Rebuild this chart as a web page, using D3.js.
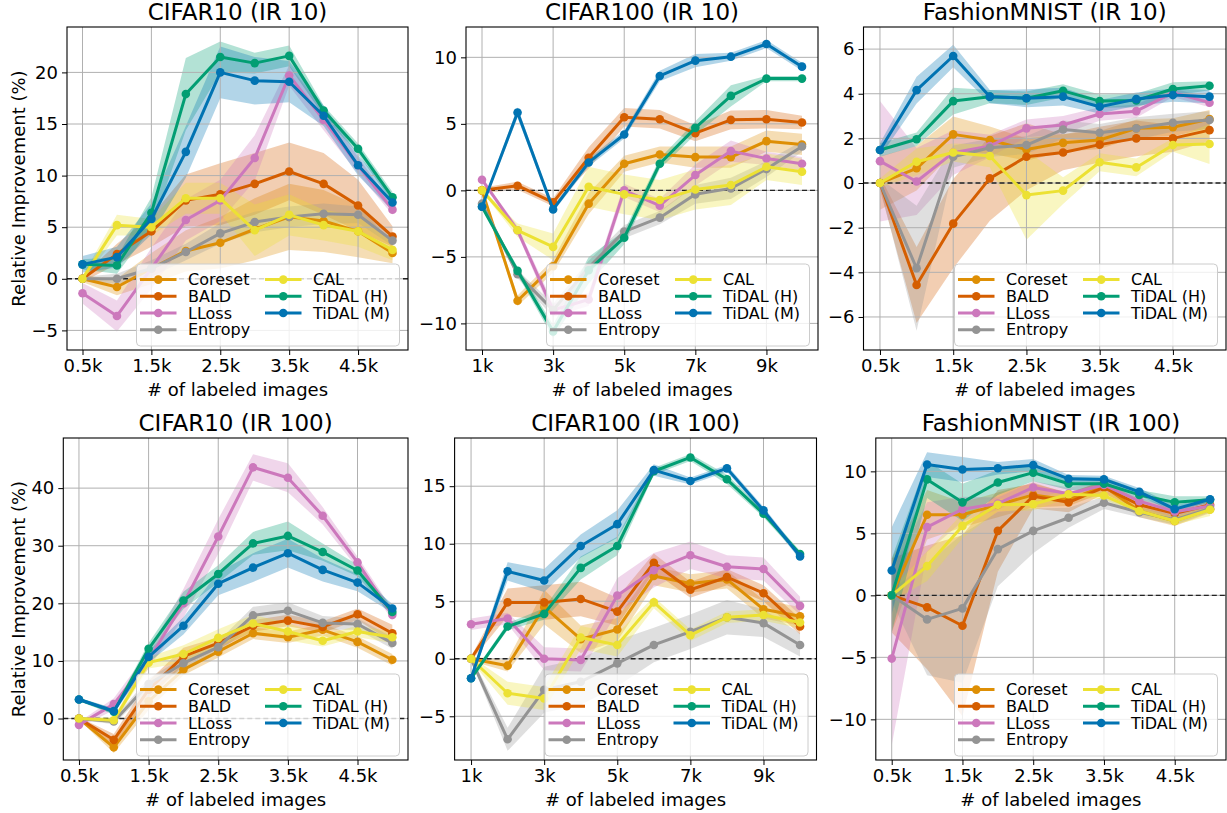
<!DOCTYPE html>
<html>
<head>
<meta charset="utf-8">
<script src="https://cdn.jsdelivr.net/npm/d3@7"></script>
<style>
  body { margin: 0; background: #fff; }
  svg { font-family: "DejaVu Sans", sans-serif; }
</style>
</head>
<body>
<div id="chart"></div>
<script>
// Methods, in legend / drawing order
var methods = ["Coreset", "BALD", "LLoss", "Entropy", "CAL", "TiDAL (H)", "TiDAL (M)"];
var colors = ["#de8f05", "#d55e00", "#cc78bc", "#949494", "#ece133", "#029e73", "#0173b2"];

// labeled-image budgets (k)
var budgetSmall = [0.5, 1, 1.5, 2, 2.5, 3, 3.5, 4, 4.5, 5];
var budgetLarge = [1, 2, 3, 4, 5, 6, 7, 8, 9, 10];
var tickSmall = [0.5, 1.5, 2.5, 3.5, 4.5];
var tickLarge = [1, 3, 5, 7, 9];

// CIFAR10 (IR 10): mean and std per method
var c10ir10Mean = [
  [0, -0.8, 1.0, 2.7, 3.5, 4.8, 6.0, 5.6, 4.6, 2.5],
  [0, 2.4, 4.6, 7.6, 8.2, 9.2, 10.4, 9.2, 7.1, 4.1],
  [-1.4, -3.6, 1.0, 5.7, 7.6, 11.7, 19.7, 15.4, 11.0, 6.7],
  [0, 0, 1.0, 2.6, 4.4, 5.5, 6.0, 6.3, 6.2, 3.7],
  [0, 5.2, 5.0, 7.8, 7.8, 4.7, 6.2, 5.2, 4.6, 2.8],
  [1.4, 1.3, 6.4, 17.9, 21.5, 20.9, 21.6, 16.3, 12.6, 7.9],
  [1.4, 2.1, 5.8, 12.3, 20.0, 19.2, 19.1, 15.8, 11.0, 7.4]
];
var c10ir10Std = [
  [0.3, 0.8, 1.5, 2.0, 2.5, 3.0, 3.2, 3.0, 2.5, 1.0],
  [0.3, 1.0, 1.5, 2.5, 3.0, 3.0, 2.8, 3.0, 2.5, 1.0],
  [1.0, 1.5, 2.0, 2.0, 2.0, 2.2, 1.0, 1.0, 0.8, 0.5],
  [0.2, 0.5, 0.8, 0.8, 1.0, 1.0, 1.0, 1.0, 0.8, 0.5],
  [0.3, 1.0, 0.8, 1.5, 1.5, 2.5, 2.0, 1.5, 1.5, 1.0],
  [0.5, 0.8, 1.5, 3.5, 1.5, 1.0, 1.0, 0.5, 0.5, 0.5],
  [0.8, 1.0, 1.5, 2.5, 2.5, 2.3, 2.0, 1.0, 1.0, 0.8]
];

// CIFAR100 (IR 10)
var c100ir10Mean = [
  [0, -8.3, -5.7, -1.0, 2.0, 2.7, 2.5, 2.5, 3.7, 3.45],
  [0, 0.35, -0.9, 2.45, 5.5, 5.35, 4.3, 5.3, 5.35, 5.1],
  [0.8, -3.0, -9.0, -8.2, 0, -1.15, 1.15, 2.95, 2.4, 2.0],
  [-1.0, -6.3, -9.0, -5.8, -3.1, -2.05, -0.3, 0.15, 1.6, 3.3],
  [0, -3.0, -4.25, 0.27, -0.3, -0.73, 0.07, 0.4, 1.77, 1.4],
  [-1.23, -6.05, -10.6, -6.0, -3.56, 2.0, 4.7, 7.1, 8.4, 8.4],
  [-1.23, 5.85, -1.43, 2.1, 4.2, 8.6, 9.75, 10.05, 11.0, 9.3]
];
var c100ir10Std = [
  [0.1, 0.4, 0.5, 0.8, 0.6, 0.6, 0.8, 0.8, 0.8, 0.8],
  [0.2, 0.3, 0.3, 0.8, 0.7, 0.7, 0.6, 0.7, 0.7, 0.5],
  [0.1, 0.3, 0.5, 0.5, 0.5, 0.5, 0.8, 0.8, 0.5, 0.5],
  [0.1, 0.3, 0.5, 0.5, 0.5, 0.5, 0.7, 0.8, 0.6, 0.4],
  [0.1, 0.5, 1.0, 1.5, 1.5, 1.5, 1.5, 1.5, 1.0, 1.0],
  [0.1, 0.3, 0.5, 1.0, 0.5, 0.4, 0.5, 0.8, 0.2, 0.2],
  [0.1, 0.4, 0.2, 0.3, 0.3, 0.4, 0.5, 0.3, 0.3, 0.3]
];

// FashionMNIST (IR 10)
var fmir10Mean = [
  [0, 0.66, 2.18, 1.93, 1.5, 1.8, 1.93, 2.45, 2.5, 2.87],
  [0, -4.57, -1.82, 0.21, 1.18, 1.37, 1.72, 2.0, 2.0, 2.37],
  [0.98, 0.07, 1.36, 1.66, 2.45, 2.6, 3.09, 3.22, 4.05, 3.6],
  [0, -3.82, 1.18, 1.58, 1.7, 2.4, 2.25, 2.45, 2.7, 2.82],
  [0, 0.95, 1.37, 1.21, -0.54, -0.34, 0.93, 0.7, 1.7, 1.75],
  [1.48, 1.96, 3.67, 3.87, 3.8, 4.13, 3.67, 3.7, 4.21, 4.36],
  [1.48, 4.16, 5.69, 3.87, 3.8, 3.87, 3.42, 3.76, 3.94, 3.87]
];
var fmir10Std = [
  [1.2, 1.0, 0.8, 0.6, 0.5, 0.4, 0.4, 0.4, 0.4, 0.4],
  [0.3, 1.7, 2.0, 1.9, 1.5, 0.8, 0.8, 0.8, 0.6, 0.5],
  [2.7, 1.5, 1.0, 0.5, 0.4, 0.4, 0.3, 0.3, 0.2, 0.2],
  [0.2, 2.8, 0.5, 0.4, 0.4, 0.4, 0.4, 0.5, 0.4, 0.4],
  [0.2, 0.6, 0.4, 0.5, 2.0, 0.6, 0.4, 0.4, 0.3, 0.9],
  [0.3, 0.3, 0.6, 0.3, 0.3, 0.3, 0.3, 0.3, 0.3, 0.2],
  [0.3, 0.6, 0.5, 0.3, 0.4, 0.4, 0.3, 0.3, 0.3, 0.3]
];

// CIFAR10 (IR 100)
var c10ir100Mean = [
  [0, -5.0, 3.0, 8.5, 11.6, 14.8, 14.1, 15.4, 13.3, 10.2],
  [0, -3.7, 5.0, 10.8, 13.1, 16.1, 17.0, 15.9, 18.1, 14.8],
  [-1.1, 2.5, 10.2, 20.0, 31.6, 43.6, 41.8, 35.2, 27.1, 18.0],
  [0, -0.5, 6.0, 9.6, 12.4, 17.9, 18.7, 16.6, 16.4, 13.1],
  [0, -0.3, 9.7, 11.2, 14.0, 16.5, 15.1, 13.5, 15.1, 14.1],
  [3.3, 1.2, 12.1, 20.5, 25.1, 30.4, 31.7, 28.9, 25.7, 18.5],
  [3.3, 1.3, 10.7, 16.1, 23.4, 26.2, 28.7, 25.8, 23.6, 19.1]
];
var c10ir100Std = [
  [0.2, 1.0, 1.5, 1.0, 1.0, 1.0, 1.0, 1.0, 1.0, 1.0],
  [0.2, 1.0, 1.5, 1.5, 1.0, 1.0, 1.0, 1.0, 1.0, 1.5],
  [0.5, 1.0, 1.5, 2.5, 3.0, 2.3, 2.5, 1.5, 1.0, 1.0],
  [0.2, 0.5, 1.0, 1.0, 1.0, 1.5, 1.5, 1.2, 1.0, 1.0],
  [0.2, 0.5, 1.0, 1.5, 1.5, 1.5, 1.5, 1.0, 1.0, 1.0],
  [0.3, 0.5, 1.0, 1.5, 1.5, 2.0, 2.5, 1.5, 1.0, 0.8],
  [0.3, 0.5, 1.0, 1.5, 2.0, 2.5, 2.5, 2.0, 1.5, 0.8]
];

// CIFAR100 (IR 100)
var c100ir100Mean = [
  [0, -0.6, 4.5, 1.7, 2.55, 7.2, 6.55, 6.9, 4.3, 3.7],
  [0, 4.9, 4.9, 5.2, 4.1, 8.35, 6.0, 7.1, 5.7, 2.8],
  [3.0, 3.5, 0.0, -0.1, 5.5, 7.7, 9.0, 8.0, 7.8, 4.6],
  [0, -7.0, -2.7, -2.0, -0.4, 1.2, 2.35, 3.6, 3.1, 1.2],
  [0, -3.0, -3.45, 1.85, 1.2, 4.9, 2.05, 3.6, 3.8, 3.15],
  [-1.7, 2.8, 3.9, 7.9, 9.8, 16.3, 17.5, 15.6, 12.6, 9.1],
  [-1.7, 7.6, 6.8, 9.8, 11.7, 16.4, 15.45, 16.55, 12.9, 8.9]
];
var c100ir100Std = [
  [0.2, 0.5, 1.5, 1.2, 1.0, 0.8, 0.8, 0.8, 0.8, 0.8],
  [0.2, 1.2, 1.5, 1.5, 1.2, 0.8, 0.7, 0.7, 0.7, 0.7],
  [0.5, 0.5, 1.0, 1.0, 1.5, 1.5, 1.2, 1.0, 1.0, 0.8],
  [0.2, 1.0, 2.0, 2.0, 2.0, 1.5, 1.5, 1.5, 1.2, 1.0],
  [0.2, 1.0, 1.0, 1.0, 1.0, 0.5, 0.5, 0.5, 0.5, 0.5],
  [0.2, 0.3, 0.5, 1.0, 0.8, 0.3, 0.3, 0.4, 0.3, 0.3],
  [0.2, 0.8, 1.0, 1.0, 1.2, 0.5, 0.3, 0.3, 0.3, 0.3]
];

// FashionMNIST (IR 100)
var fmir100Mean = [
  [0, 6.5, 6.5, 7.3, 8.1, 7.7, 8.8, 6.8, 6.0, 6.95],
  [0, -0.97, -2.45, 5.2, 8.0, 7.5, 8.7, 7.3, 6.6, 7.3],
  [-5.1, 5.5, 6.95, 7.4, 8.7, 8.2, 8.9, 7.6, 6.75, 7.2],
  [0, -1.94, -1.05, 3.73, 5.2, 6.26, 7.47, 6.7, 6.1, 7.0],
  [0, 2.36, 5.6, 7.3, 7.35, 8.15, 8.05, 6.8, 6.0, 6.9],
  [0, 9.35, 7.5, 9.1, 9.9, 9.0, 9.0, 8.1, 7.5, 7.7],
  [2.0, 10.55, 10.15, 10.25, 10.5, 9.4, 9.35, 8.35, 6.95, 7.75]
];
var fmir100Std = [
  [3.0, 2.0, 1.0, 1.0, 1.0, 0.5, 0.5, 0.5, 0.4, 0.3],
  [3.0, 5.0, 7.3, 3.3, 1.0, 0.8, 0.5, 0.4, 0.4, 0.4],
  [7.0, 2.0, 1.0, 0.5, 0.5, 0.5, 0.3, 0.3, 0.3, 0.3],
  [0.5, 4.5, 6.0, 3.0, 1.8, 0.8, 0.5, 0.4, 0.4, 0.3],
  [0.5, 1.2, 1.0, 0.5, 0.5, 0.3, 0.3, 0.3, 0.3, 0.5],
  [3.0, 1.5, 1.5, 1.0, 0.7, 0.5, 0.5, 0.4, 0.5, 0.3],
  [3.5, 1.0, 1.0, 0.5, 0.5, 0.3, 0.3, 0.3, 0.3, 0.2]
];

// Panel layout (pixel boxes and axis ranges)
var panels = [
  { title: "CIFAR10 (IR 10)", mean: c10ir10Mean, std: c10ir10Std, xs: budgetSmall, xticks: tickSmall,
    xdom: [0.275, 5.225], ydom: [-6.9, 24.4], yticks: [-5, 0, 5, 10, 15, 20],
    left: 67, right: 408, top: 27, bottom: 350, ylabel: true },
  { title: "CIFAR100 (IR 10)", mean: c100ir10Mean, std: c100ir10Std, xs: budgetLarge, xticks: tickLarge,
    xdom: [0.55, 10.45], ydom: [-12.0, 12.28], yticks: [-10, -5, 0, 5, 10],
    left: 466, right: 818, top: 27, bottom: 350 },
  { title: "FashionMNIST (IR 10)", mean: fmir10Mean, std: fmir10Std, xs: budgetSmall, xticks: tickSmall,
    xdom: [0.275, 5.225], ydom: [-7.48, 6.99], yticks: [-6, -4, -2, 0, 2, 4, 6],
    left: 863.5, right: 1226, top: 27, bottom: 350 },
  { title: "CIFAR10 (IR 100)", mean: c10ir100Mean, std: c10ir100Std, xs: budgetSmall, xticks: tickSmall,
    xdom: [0.275, 5.225], ydom: [-7.2, 48.7], yticks: [0, 10, 20, 30, 40],
    left: 63.3, right: 408, top: 438, bottom: 760, ylabel: true },
  { title: "CIFAR100 (IR 100)", mean: c100ir100Mean, std: c100ir100Std, xs: budgetLarge, xticks: tickLarge,
    xdom: [0.55, 10.45], ydom: [-8.8, 19.19], yticks: [-5, 0, 5, 10, 15],
    left: 454.6, right: 816.5, top: 438, bottom: 760 },
  { title: "FashionMNIST (IR 100)", mean: fmir100Mean, std: fmir100Std, xs: budgetSmall, xticks: tickSmall,
    xdom: [0.275, 5.225], ydom: [-13.28, 12.69], yticks: [-10, -5, 0, 5, 10],
    left: 875.8, right: 1226, top: 438, bottom: 760 }
];

var svg = d3.select("#chart")
  .append("svg")
    .attr("width", 1227)
    .attr("height", 813);

var fmtNum = function (v) { return (v < 0 ? "\u2212" : "") + Math.abs(v); };
var fmtK = function (v) { return v + "k"; };

panels.forEach(function (p, pi) {
  var x = d3.scaleLinear().domain(p.xdom).range([p.left, p.right]);
  var y = d3.scaleLinear().domain(p.ydom).range([p.bottom, p.top]);
  var g = svg.append("g");

  var clipId = "clip" + pi;
  svg.append("clipPath").attr("id", clipId)
    .append("rect")
      .attr("x", p.left).attr("y", p.top)
      .attr("width", p.right - p.left).attr("height", p.bottom - p.top);

  var plot = g.append("g").attr("clip-path", "url(#" + clipId + ")");

  // shaded bands (mean +/- std)
  var area = d3.area()
    .x(function (d) { return x(d.x); })
    .y0(function (d) { return y(d.m - d.s); })
    .y1(function (d) { return y(d.m + d.s); });

  methods.forEach(function (name, i) {
    var rows = p.xs.map(function (xv, j) { return { x: xv, m: p.mean[i][j], s: p.std[i][j] }; });
    plot.append("path")
      .datum(rows)
      .attr("d", area)
      .attr("fill", colors[i])
      .attr("fill-opacity", 0.3);
  });

  // grid
  plot.append("g")
    .selectAll("line.gx")
    .data(p.xticks)
    .enter().append("line")
      .attr("x1", function (d) { return x(d); }).attr("x2", function (d) { return x(d); })
      .attr("y1", p.top).attr("y2", p.bottom)
      .attr("stroke", "#b0b0b0").attr("stroke-width", 1);
  plot.append("g")
    .selectAll("line.gy")
    .data(p.yticks)
    .enter().append("line")
      .attr("y1", function (d) { return y(d); }).attr("y2", function (d) { return y(d); })
      .attr("x1", p.left).attr("x2", p.right)
      .attr("stroke", "#b0b0b0").attr("stroke-width", 1);

  // zero reference
  plot.append("line")
    .attr("x1", p.left).attr("x2", p.right)
    .attr("y1", y(0)).attr("y2", y(0))
    .attr("stroke", "#222").attr("stroke-width", 1.4)
    .attr("stroke-dasharray", "5,3");

  // lines + markers
  var line = d3.line()
    .x(function (d) { return x(d.x); })
    .y(function (d) { return y(d.m); });

  methods.forEach(function (name, i) {
    var rows = p.xs.map(function (xv, j) { return { x: xv, m: p.mean[i][j] }; });
    plot.append("path")
      .datum(rows)
      .attr("d", line)
      .attr("fill", "none")
      .attr("stroke", colors[i])
      .attr("stroke-width", 3)
      .attr("stroke-linejoin", "round");
    plot.selectAll(null)
      .data(rows)
      .enter().append("circle")
        .attr("cx", function (d) { return x(d.x); })
        .attr("cy", function (d) { return y(d.m); })
        .attr("r", 4.3)
        .attr("fill", colors[i]);
  });

  // axes
  var ax = g.append("g")
    .attr("transform", "translate(0," + p.bottom + ")")
    .call(d3.axisBottom(x).tickValues(p.xticks).tickFormat(fmtK).tickSize(5).tickPadding(4).tickSizeOuter(0));
  var ay = g.append("g")
    .attr("transform", "translate(" + p.left + ",0)")
    .call(d3.axisLeft(y).tickValues(p.yticks).tickFormat(fmtNum).tickSize(5).tickPadding(4).tickSizeOuter(0));
  [ax, ay].forEach(function (a) {
    a.select(".domain").remove();
    a.selectAll("text").style("font-size", "18px").attr("fill", "#000").style("font-family", "DejaVu Sans");
    a.selectAll("line").attr("stroke", "#000").attr("stroke-width", 1);
  });

  // frame
  g.append("rect")
    .attr("x", p.left).attr("y", p.top)
    .attr("width", p.right - p.left).attr("height", p.bottom - p.top)
    .attr("fill", "none").attr("stroke", "#000").attr("stroke-width", 1.1);

  // title and labels
  g.append("text")
    .attr("x", (p.left + p.right) / 2)
    .attr("y", p.top - 7)
    .attr("text-anchor", "middle")
    .style("font-size", "23px")
    .text(p.title);

  g.append("text")
    .attr("x", (p.left + p.right) / 2)
    .attr("y", p.bottom + 46)
    .attr("text-anchor", "middle")
    .style("font-size", "18px")
    .text("# of labeled images");

  if (p.ylabel) {
    g.append("text")
      .attr("transform", "translate(25," + ((p.top + p.bottom) / 2) + ") rotate(-90)")
      .attr("text-anchor", "middle")
      .style("font-size", "18px")
      .text("Relative Improvement (%)");
  }

  // legend (lower right, two columns)
  var lw = 263, lh = 82;
  var lx = p.right - 8.5 - lw, ly = p.bottom - 4 - lh;
  var leg = g.append("g").attr("transform", "translate(" + lx + "," + ly + ")");
  leg.append("rect")
    .attr("width", lw).attr("height", lh)
    .attr("rx", 4)
    .attr("fill", "#fff").attr("fill-opacity", 0.8)
    .attr("stroke", "#cccccc").attr("stroke-width", 1);
  methods.forEach(function (name, i) {
    var col = i < 4 ? 0 : 1;
    var row = i < 4 ? i : i - 4;
    var ox = 3.5 + col * 125, oy = 15.6 + row * 16.7;
    leg.append("line")
      .attr("x1", ox).attr("x2", ox + 36.5)
      .attr("y1", oy).attr("y2", oy)
      .attr("stroke", colors[i]).attr("stroke-width", 3);
    leg.append("circle")
      .attr("cx", ox + 18.25).attr("cy", oy).attr("r", 4.3)
      .attr("fill", colors[i]);
    leg.append("text")
      .attr("x", ox + 48).attr("y", oy)
      .attr("dy", "0.35em")
      .style("font-size", "16px")
      .text(name);
  });
});
</script>
</body>
</html>
